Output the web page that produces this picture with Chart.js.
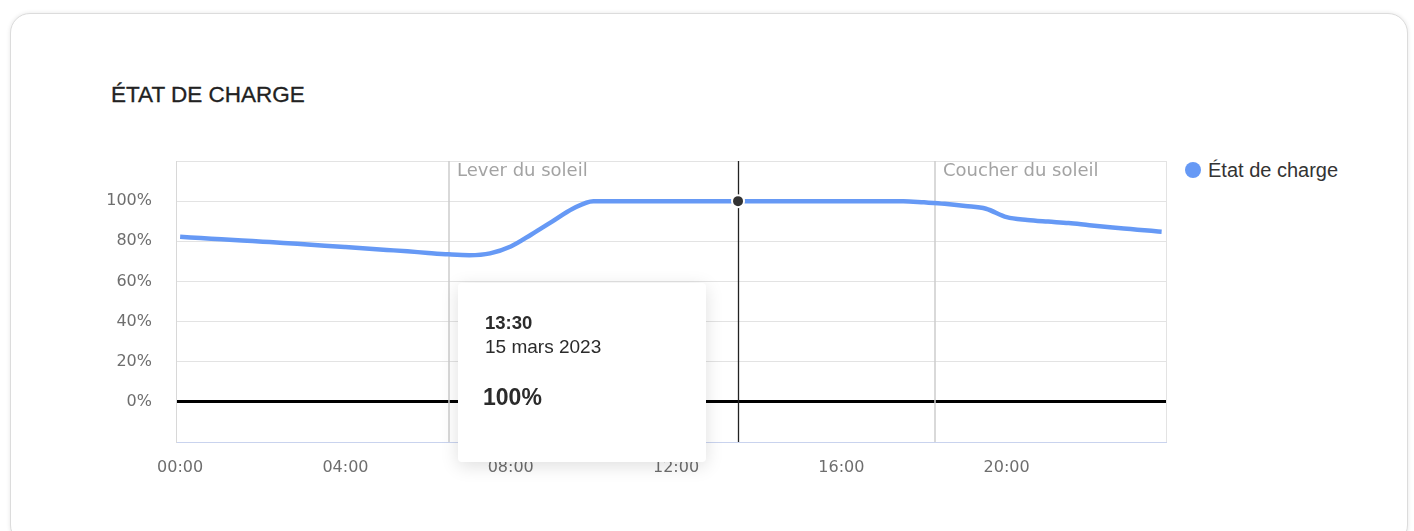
<!DOCTYPE html>
<html lang="fr">
<head>
<meta charset="utf-8">
<title>État de charge</title>
<script src="https://cdn.jsdelivr.net/npm/chart.js@4.4.1/dist/chart.umd.min.js"></script>
<style>
    html, body {
        margin: 0;
        padding: 0;
        background: #ffffff;
        width: 1414px;
        height: 531px;
        overflow: hidden;
    }
    .card {
        position: absolute;
        left: 10px;
        top: 13px;
        width: 1396px;
        height: 530px;
        border: 1px solid #dcdcdc;
        border-radius: 20px;
        box-shadow: 0 0 4px rgba(0, 0, 0, 0.10);
        background: #ffffff;
    }
    .title {
        position: absolute;
        left: 111px;
        top: 84px;
        font: 22.5px/22px "Liberation Sans", Arial, sans-serif;
        color: #222222;
        -webkit-text-stroke: 0.3px #222222;
        white-space: nowrap;
    }
    .legend {
        position: absolute;
        left: 1185px;
        top: 160px;
        height: 20px;
        font: 20px/20px "Liberation Sans", Arial, sans-serif;
        color: #333333;
        white-space: nowrap;
    }
    .legend .dot {
        position: absolute;
        left: 0;
        top: 2px;
        width: 16px;
        height: 16px;
        border-radius: 50%;
    }
    .legend .txt {
        position: absolute;
        left: 23px;
        top: 0;
    }
    .chart-box {
        position: absolute;
        left: 100px;
        top: 140px;
        width: 1070px;
        height: 362px;
    }
    #tip {
        position: absolute;
        width: 248px;
        height: 179px;
        background: #ffffff;
        border-radius: 4px;
        box-shadow: 0 4px 18px rgba(0, 0, 0, 0.13);
        box-sizing: border-box;
        padding: 28px 0 0 27px;
        font-family: "Liberation Sans", Arial, sans-serif;
        color: #2b2b2b;
        opacity: 0;
        pointer-events: none;
    }
    #tip .t1 { font-size: 18.5px; line-height: 24px; font-weight: bold; }
    #tip .t2 { font-size: 19px; line-height: 24px; }
    #tip .v { font-size: 23px; line-height: 28px; font-weight: bold; margin-top: 24px; margin-left: -2px; }
</style>
</head>
<body>
<div class="card"></div>
<div class="title">ÉTAT DE CHARGE</div>
<div class="legend"><span class="dot" id="legendDot"></span><span class="txt" id="legendTxt"></span></div>
<div class="chart-box">
    <canvas id="socChart"></canvas>
    <div id="tip"></div>
</div>
<script>
// Chart data
const timeLabels = ['00:00', '00:30', '01:00', '01:30', '02:00', '02:30', '03:00', '03:30', '04:00', '04:30', '05:00', '05:30',
    '06:00', '06:30', '07:00', '07:30', '08:00', '08:30', '09:00', '09:30', '10:00', '10:30', '11:00', '11:30',
    '12:00', '12:30', '13:00', '13:30', '14:00', '14:30', '15:00', '15:30', '16:00', '16:30', '17:00', '17:30',
    '18:00', '18:30', '19:00', '19:30', '20:00', '20:30', '21:00', '21:30', '22:00', '22:30', '23:00', '23:30', '23:45'];
const socValues = [82.2, 81.6, 81.0, 80.4, 79.8, 79.2, 78.5, 77.8, 77.1, 76.4, 75.7, 75.0,
    74.2, 73.5, 73.1, 74.0, 77.4, 83.4, 89.8, 96.2, 100, 100, 100, 100,
    100, 100, 100, 100, 100, 100, 100, 100, 100, 100, 100, 100,
    99.4, 98.7, 97.6, 96.2, 92.0, 90.6, 89.8, 89.1, 88.0, 87.0, 86.1, 85.2, 84.8];
const seriesName = 'État de charge';
const dayLabel = '15 mars 2023';
const hoverTime = '13:30';

const xTickHours = [0, 4, 8, 12, 16, 20];
const xTickLabels = ['00:00', '04:00', '08:00', '12:00', '16:00', '20:00'];
const yTickValues = [-20, 0, 20, 40, 60, 80, 100, 120];
const yTickLabels = ['', '0%', '20%', '40%', '60%', '80%', '100%', ''];

const sunEvents = [
    { label: 'Lever du soleil', time: '06:30' },
    { label: 'Coucher du soleil', time: '18:16' }
];

const lineColor = '#6699f5';

function toHours(t) {
    const p = t.split(':');
    return parseInt(p[0], 10) + parseInt(p[1], 10) / 60;
}

document.getElementById('legendDot').style.background = lineColor;
document.getElementById('legendTxt').textContent = seriesName;

// Sunrise / sunset lines + hover crosshair
const markersPlugin = {
    id: 'markers',
    beforeDatasetsDraw(chart) {
        const { ctx, chartArea } = chart;
        const x = chart.scales.x;
        ctx.save();
        // right border of the plot
        ctx.strokeStyle = '#e3e3e3';
        ctx.lineWidth = 1;
        ctx.beginPath();
        ctx.moveTo(chartArea.right - 0.5, chartArea.top);
        ctx.lineTo(chartArea.right - 0.5, chartArea.bottom);
        ctx.stroke();

        sunEvents.forEach(ev => {
            const px = Math.round(x.getPixelForValue(toHours(ev.time)));
            ctx.strokeStyle = '#cdcdcd';
            ctx.lineWidth = 1.5;
            ctx.beginPath();
            ctx.moveTo(px, chartArea.top);
            ctx.lineTo(px, chartArea.bottom);
            ctx.stroke();
            ctx.fillStyle = '#a3a3a3';
            ctx.font = '18px "DejaVu Sans"';
            ctx.textBaseline = 'middle';
            ctx.textAlign = 'left';
            ctx.fillText(ev.label, px + 8, chartArea.top + 10);
        });

        const active = chart.getActiveElements();
        if (active.length) {
            const ax = Math.round(active[0].element.x) + 0.5;
            ctx.strokeStyle = '#222222';
            ctx.lineWidth = 1.3;
            ctx.beginPath();
            ctx.moveTo(ax, chartArea.top);
            ctx.lineTo(ax, chartArea.bottom);
            ctx.stroke();
        }
        ctx.restore();
    }
};

function externalTooltip(context) {
    const { chart, tooltip } = context;
    const el = document.getElementById('tip');
    if (tooltip.opacity === 0) {
        el.style.opacity = 0;
        return;
    }
    const title = tooltip.title || [];
    const lines = [];
    (tooltip.body || []).forEach(b => b.lines.forEach(l => lines.push(l)));
    el.innerHTML = '<div class="t1">' + (title[0] || '') + '</div>' +
        '<div class="t2">' + (title[1] || '') + '</div>' +
        '<div class="v">' + (lines[0] || '') + '</div>';
    el.style.left = (tooltip.caretX - 280) + 'px';
    el.style.top = (chart.chartArea.top + 122) + 'px';
    el.style.opacity = 1;
}

Chart.defaults.font.family = '"DejaVu Sans", sans-serif';

const socCtx = document.getElementById('socChart');
const socChart = new Chart(socCtx, {
    type: 'line',
    data: {
        datasets: [{
            label: seriesName,
            data: timeLabels.map((t, i) => ({ x: toHours(t), y: socValues[i] })),
            borderColor: lineColor,
            backgroundColor: lineColor,
            borderWidth: 4.5,
            fill: false,
            cubicInterpolationMode: 'monotone',
            pointRadius: 0,
            pointHoverRadius: 6,
            pointHoverBackgroundColor: '#333333',
            pointHoverBorderColor: '#ffffff',
            pointHoverBorderWidth: 2
        }]
    },
    options: {
        responsive: true,
        maintainAspectRatio: false,
        animation: false,
        events: [],
        layout: {
            padding: { top: 21, right: 3, bottom: 0, left: 0 }
        },
        plugins: {
            legend: { display: false },
            tooltip: {
                enabled: false,
                external: externalTooltip,
                callbacks: {
                    title: function(items) {
                        return [timeLabels[items[0].dataIndex], dayLabel];
                    },
                    label: function(item) {
                        return item.parsed.y + '%';
                    }
                }
            }
        },
        scales: {
            x: {
                type: 'linear',
                min: -0.1,
                max: 23.88,
                afterBuildTicks: function(scale) {
                    scale.ticks = xTickHours.map(v => ({ value: v }));
                },
                afterFit: function(scale) {
                    scale.height = 60;
                },
                grid: { display: false, drawTicks: false },
                border: { display: false },
                ticks: {
                    color: '#6e6e6e',
                    font: { size: 16 },
                    padding: 16,
                    maxRotation: 0,
                    autoSkip: false,
                    callback: function(value, index) {
                        return xTickLabels[index];
                    }
                }
            },
            y: {
                min: -20,
                max: 120,
                afterBuildTicks: function(scale) {
                    scale.ticks = yTickValues.map(v => ({ value: v }));
                },
                afterFit: function(scale) {
                    scale.width = 76;
                    // labels padding must not push the plot down
                    scale.paddingTop = 0;
                    scale.paddingBottom = 0;
                },
                border: { display: true, color: '#d8d8d8', width: 1 },
                grid: {
                    drawTicks: false,
                    color: function(c) {
                        if (c.tick && c.tick.value === 0) return '#000000';
                        if (c.tick && c.tick.value === -20) return '#c9d3ee';
                        return '#e3e3e3';
                    },
                    lineWidth: function(c) {
                        return c.tick && c.tick.value === 0 ? 3 : 1;
                    }
                },
                ticks: {
                    color: '#6e6e6e',
                    font: { size: 16 },
                    padding: 24,
                    autoSkip: false,
                    callback: function(value, index) {
                        return yTickLabels[index];
                    }
                }
            }
        }
    },
    plugins: [markersPlugin]
});

// Show the hovered point like the reference screenshot
const hoverIndex = timeLabels.indexOf(hoverTime);
const hoverMeta = socChart.getDatasetMeta(0).data[hoverIndex];
socChart.tooltip.setActiveElements([{ datasetIndex: 0, index: hoverIndex }], { x: hoverMeta.x, y: hoverMeta.y });
socChart.setActiveElements([{ datasetIndex: 0, index: hoverIndex }]);
socChart.update();
</script>
</body>
</html>
